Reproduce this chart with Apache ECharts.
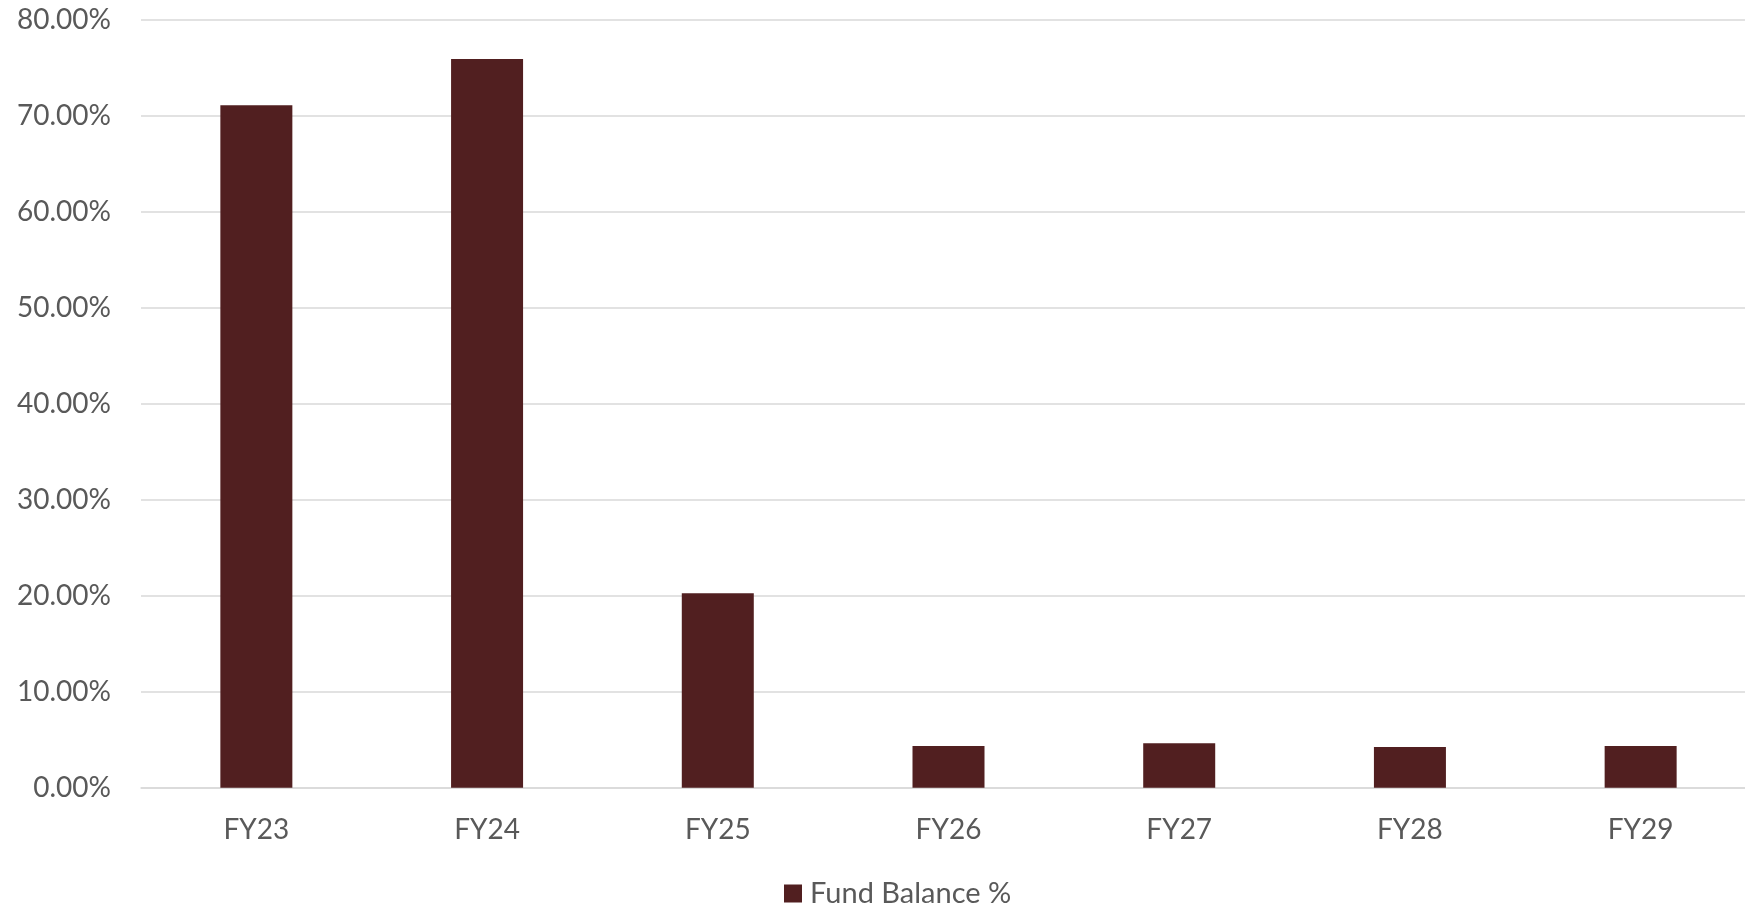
<!DOCTYPE html>
<html>
<head>
<meta charset="utf-8">
<style>
  html, body { margin: 0; padding: 0; background: #ffffff; overflow: hidden; }
  /* the plot runs slightly past the right edge of the window */
  #chart { width: 1756px; height: 908px; }
</style>
<script src="https://cdn.jsdelivr.net/npm/echarts@6/dist/echarts.min.js"></script>
</head>
<body>
<div id="chart"></div>
<script>
// Fiscal years on the category axis
const categories = ['FY23', 'FY24', 'FY25', 'FY26', 'FY27', 'FY28', 'FY29'];
// Fund balance, in percent
const fundBalancePct = [71.1, 75.9, 20.25, 4.35, 4.62, 4.24, 4.35];
// Value axis range and step, in percent
const yMin = 0;
const yMax = 80;
const yStep = 10;
const seriesName = 'Fund Balance %';

const textColor = '#595959';
const gridColor = '#d9d9d9';
const barColor = '#511f20';
const fontFamily = 'Lato, "Open Sans", sans-serif';

const chart = echarts.init(document.getElementById('chart'), null, { renderer: 'canvas' });

chart.setOption({
  animation: false,
  backgroundColor: '#ffffff',
  grid: {
    left: 141,
    right: 0,
    top: 19.7,
    height: 768,
    containLabel: false
  },
  legend: {
    data: [seriesName],
    left: 779,
    top: 874,
    itemWidth: 18,
    itemHeight: 18,
    icon: 'rect',
    textStyle: {
      color: textColor,
      fontFamily: fontFamily,
      fontSize: 29,
      padding: [0, 0, 0, 3]
    }
  },
  xAxis: {
    type: 'category',
    data: categories,
    boundaryGap: true,
    axisLine: { show: true, lineStyle: { color: gridColor, width: 1.5 } },
    axisTick: { show: false },
    axisLabel: {
      color: textColor,
      fontFamily: fontFamily,
      fontSize: 28,
      margin: 28
    }
  },
  yAxis: {
    type: 'value',
    min: yMin,
    max: yMax,
    interval: yStep,
    axisLine: { show: false },
    axisTick: { show: false },
    splitLine: { show: true, lineStyle: { color: gridColor, width: 1.5 } },
    axisLabel: {
      color: textColor,
      fontFamily: fontFamily,
      fontSize: 28,
      margin: 30,
      formatter: function (v) { return v.toFixed(2) + '%'; }
    }
  },
  series: [{
    name: seriesName,
    type: 'bar',
    data: fundBalancePct,
    barWidth: 72,
    itemStyle: { color: barColor }
  }]
});
</script>
</body>
</html>
